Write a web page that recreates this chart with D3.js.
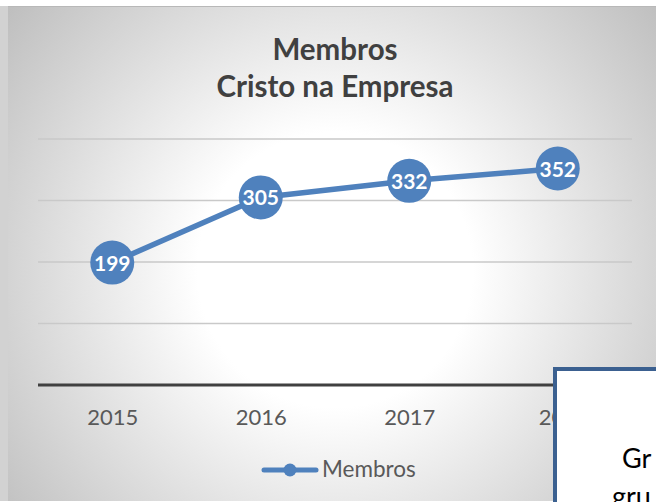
<!DOCTYPE html>
<html><head><meta charset="utf-8">
<script src="https://cdn.jsdelivr.net/npm/d3@7"></script>
<style>html,body{margin:0;padding:0;background:#fff;overflow:hidden}</style>
</head><body>
<svg id="c" width="656" height="502"></svg>
<script>
const categories = ["2015","2016","2017","2018"];
const values = [199, 305, 332, 352];
const yTicks = [0, 100, 200, 300, 400];
const titleLines = ["Membros", "Cristo na Empresa"];
const seriesName = "Membros";
const overlayLines = ["Gr", "gru"];

const FONT = "Lato, 'Open Sans', sans-serif";
const svg = d3.select("#c");
const defs = svg.append("defs");
const rg = defs.append("radialGradient").attr("id","bg")
  .attr("gradientUnits","userSpaceOnUse").attr("cx",335).attr("cy",270).attr("r",430);
rg.append("stop").attr("offset","0").attr("stop-color","#ffffff");
rg.append("stop").attr("offset","0.32").attr("stop-color","#ffffff");
rg.append("stop").attr("offset","1").attr("stop-color","#bcbcbc");

svg.append("rect").attr("x",0).attr("y",6).attr("width",8).attr("height",495).attr("fill","#d2d2d2");
svg.append("rect").attr("x",8).attr("y",6).attr("width",660).attr("height",495).attr("fill","url(#bg)");
svg.append("line").attr("x1",8).attr("x2",668).attr("y1",6.5).attr("y2",6.5).attr("stroke","#b8b8b8");

const x = d3.scalePoint().domain(categories).range([38,632]).padding(0.5);
const y = d3.scaleLinear().domain([0,400]).range([385,139]);

// gridlines
svg.append("g").selectAll("line").data(yTicks.filter(d=>d>0)).join("line")
  .attr("x1",38).attr("x2",632).attr("y1",d=>y(d)).attr("y2",d=>y(d))
  .attr("stroke","#c9c9c9").attr("stroke-width",1.5);

// x axis
const xa = svg.append("g").attr("transform","translate(0,"+y(0)+")")
  .call(d3.axisBottom(x).tickSize(0).tickPadding(0));
xa.select(".domain").attr("d","M38,0H632").attr("stroke","#404040").attr("stroke-width",3);
xa.selectAll("text").attr("font-family",FONT).attr("font-size",22).attr("fill","#595959")
  .attr("dy",null).attr("y",40)
  .attr("dx",(d,i)=> i===categories.length-1 ? 6 : 0);

// title
const t = svg.append("text").attr("text-anchor","middle").attr("font-family",FONT)
  .attr("font-weight","bold").attr("font-size",29.5).attr("fill","#404040");
titleLines.forEach((s,i)=>t.append("tspan").attr("x",335).attr("y",60+i*37).text(s));

// line
const data = categories.map((c,i)=>({c, v: values[i]}));
svg.append("path").datum(data)
  .attr("d", d3.line().x(d=>x(d.c)).y(d=>y(d.v)))
  .attr("fill","none").attr("stroke","#4f81bd").attr("stroke-width",5.5).attr("stroke-linejoin","round");
svg.append("g").selectAll("circle").data(data).join("circle")
  .attr("cx",d=>x(d.c)).attr("cy",d=>y(d.v)).attr("r",22).attr("fill","#4f81bd");
svg.append("g").selectAll("text").data(data).join("text")
  .attr("x",d=>x(d.c)).attr("y",d=>y(d.v)+8).attr("text-anchor","middle")
  .attr("font-family",FONT).attr("font-weight","bold").attr("font-size",21)
  .attr("fill","#ffffff").text(d=>d.v);

// legend
const lg = svg.append("g");
lg.append("line").attr("x1",264).attr("x2",316).attr("y1",470).attr("y2",470)
  .attr("stroke","#4f81bd").attr("stroke-width",5).attr("stroke-linecap","round");
lg.append("circle").attr("cx",290).attr("cy",470).attr("r",6.5).attr("fill","#4f81bd");
lg.append("text").attr("x",322).attr("y",477).attr("font-family",FONT)
  .attr("font-size",22.5).attr("fill","#595959").text(seriesName);

// overlapping box
svg.append("rect").attr("x",555).attr("y",369).attr("width",120).attr("height",150)
  .attr("fill","#ffffff").attr("stroke","#3b6090").attr("stroke-width",4);
const ot = svg.append("text").attr("font-family",FONT).attr("font-size",27).attr("fill","#000");
ot.append("tspan").attr("x",622).attr("y",468).text(overlayLines[0]);
ot.append("tspan").attr("x",612).attr("y",506).text(overlayLines[1]);
</script>
</body></html>
